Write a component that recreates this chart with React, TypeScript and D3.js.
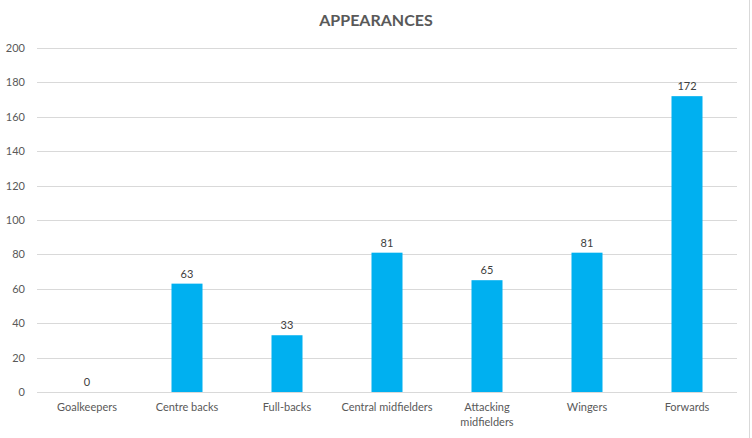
import React from "react";
import * as d3 from "d3";

const categories: string[][] = [
  ["Goalkeepers"],
  ["Centre backs"],
  ["Full-backs"],
  ["Central midfielders"],
  ["Attacking", "midfielders"],
  ["Wingers"],
  ["Forwards"],
];
const values: number[] = [0, 63, 33, 81, 65, 81, 172];
const yTicks: number[] = [0, 20, 40, 60, 80, 100, 120, 140, 160, 180, 200];
const title = "APPEARANCES";

const W = 752;
const H = 438;
const left = 37;
const right = 737;
const top = 48;
const bottom = 392;
const font = "Lato, 'Open Sans', sans-serif";
const textColor = "#595959";

export default function App() {
  const keys = categories.map((c) => c.join(" "));
  const x = d3.scaleBand<string>().domain(keys).range([left, right]).paddingInner(0.69).paddingOuter(0.345);
  const y = d3.scaleLinear().domain([0, 200]).range([bottom, top]);
  return (
    <svg width={W} height={H} style={{ position: "absolute", left: 0, top: 0, background: "#fff" }}>
      <rect x={0} y={0} width={W} height={H} fill="#fff" />
      <line x1={749.5} x2={749.5} y1={0} y2={H} stroke="#d9d9d9" />
      <text x={376} y={26} textAnchor="middle" fontFamily={font} fontWeight="bold" fontSize={16} fill={textColor}>
        {title}
      </text>
      {yTicks.map((t) => (
        <g key={t}>
          <line x1={left} x2={right} y1={Math.round(y(t)) + 0.5} y2={Math.round(y(t)) + 0.5} stroke="#d9d9d9" />
          <text x={25} y={y(t) + 4} textAnchor="end" fontFamily={font} fontSize={11} fill={textColor}>
            {t}
          </text>
        </g>
      ))}
      {values.map((v, i) => {
        const k = keys[i];
        const bx = x(k)!;
        const cx = bx + x.bandwidth() / 2;
        return (
          <g key={k}>
            <rect x={bx} y={y(v)} width={x.bandwidth()} height={bottom - y(v)} fill="#00B0F0" />
            <text x={cx} y={y(v) - 6} textAnchor="middle" fontFamily={font} fontSize={11} fill="#404040">
              {v}
            </text>
            {categories[i].map((line, j) => (
              <text key={j} x={cx} y={411 + j * 15} textAnchor="middle" fontFamily={font} fontSize={11} fill={textColor}>
                {line}
              </text>
            ))}
          </g>
        );
      })}
    </svg>
  );
}
